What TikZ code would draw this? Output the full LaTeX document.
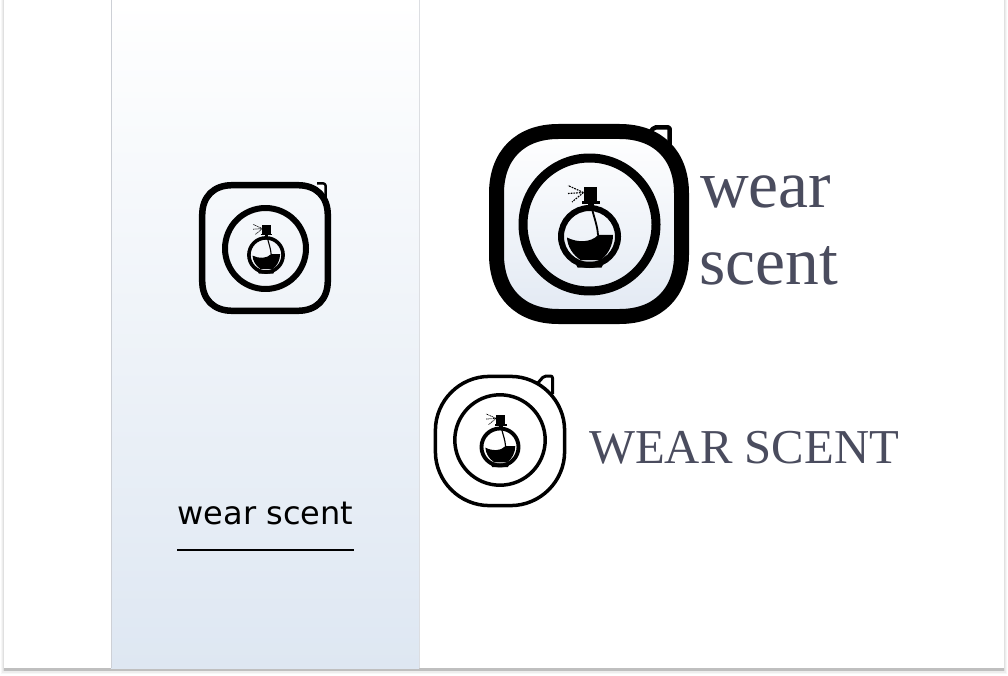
\documentclass[tikz,border=0pt]{standalone}
\usepackage{fontspec}
\setmainfont{Liberation Serif}
\newfontfamily\panelfont{DejaVu Sans}
\definecolor{inkgrey}{HTML}{4A4C5E}
\definecolor{panelblue}{HTML}{DEE7F2}
\definecolor{iconblue}{HTML}{E2E9F3}
\definecolor{edgegrey}{HTML}{CDD0D6}
\tikzset{
  iconring/.style={draw=black, line join=round},
  earline/.style={draw=black, fill=white, rounded corners=2pt, line join=round},
  logotext/.style={inner sep=0pt, anchor=base west, text=inkgrey},
}
% #1 options, #2,#3 centre, #4 half side, #5 corner length, #6 handle
\newcommand{\softsquare}[6]{
  \pgfmathsetmacro\sqa{#4-#5}
  \pgfmathsetmacro\sqb{#4-#5+#5*#6}
  \path[shift={(#2,#3)}, #1] (-\sqa,-#4) -- (\sqa,-#4) .. controls (\sqb,-#4) and (#4,-\sqb) .. (#4,-\sqa)
    -- (#4,\sqa) .. controls (#4,\sqb) and (\sqb,#4) .. (\sqa,#4)
    -- (-\sqa,#4) .. controls (-\sqb,#4) and (-#4,\sqb) .. (-#4,\sqa)
    -- (-#4,-\sqa) .. controls (-#4,-\sqb) and (-\sqb,-#4) .. cycle;
}
% perfume bottle: #1,#2 centre of the body, #3 scale
\newcommand{\perfume}[3]{
  \begin{scope}[shift={(#1,#2)}, x=#3pt, y=-#3pt]
    \draw[line width=#3*6pt] (0,0) circle (28.5);
    \fill (-15,25) -- (15,25) -- (12,31) -- (-12,31) -- cycle;
    \fill (-6,-49.5) rectangle (7.5,-35.5);
    \fill (-8,-35.5) rectangle (10,-32.5);
    \fill (-2,-33) rectangle (4,-28);
    \fill (-22.5,1) .. controls (-12,6.5) and (2,6) .. (8.5,-1.5) -- (23.5,-1.5)
      .. controls (23.5,8) and (19,18) .. (11,23.5) -- (-9,23.5)
      .. controls (-17,18) and (-22,10) .. cycle;
    \draw[line width=#3*1.8pt] (2.5,-27.5) .. controls (5,-18) and (8,-10) .. (8.5,-1.5);
    \draw[line width=#3*1.1pt, dash pattern=on #3*1.8pt off #3*1pt]
      (-6,-44) -- (-21.5,-51) (-6,-44) -- (-21.5,-43) (-6,-44) -- (-17.5,-34.5);
  \end{scope}
}
\begin{document}
\begin{tikzpicture}[x=1pt, y=-1pt]
  \useasboundingbox (0,0) rectangle (1008,676);
  % sheet and its shadow
  \fill[black!3] (1,0) rectangle (1007,674);
  \fill[black!7] (2,0) rectangle (1006,672.5);
  \fill[black!12] (3,0) rectangle (1005,671);
  \fill[black!25] (4,668) rectangle (1004,670.5);
  \fill[white] (4,0) rectangle (1004,668);
  \shade[top color=white, bottom color=panelblue] (111,0) rectangle (419,668);
  \draw[edgegrey, line width=1pt] (111.5,0) -- (111.5,668);
  \draw[edgegrey!70, line width=.7pt] (419.5,0) -- (419.5,668);

  % panel icon
  \path[earline, line width=2.5pt] (317,183.5) -- (325.5,183.5) -- (325.5,197);
  \softsquare{iconring, line width=6.5pt}{265}{248}{62.8}{30}{.62}
  \draw[iconring, line width=6pt] (265.5,248.5) circle (40.5);
  \perfume{266}{255}{.6}
  \node[inner sep=0pt, anchor=base west, text=black] (panel label) at (177.5,524)
    {\panelfont\fontsize{32}{32}\selectfont wear scent};
  \coordinate (rule west) at (177,550);
  \coordinate (rule east) at (354,550);
  \draw[line width=2pt] (rule west) -- (rule east);

  % large icon
  \path[earline, line width=4.5pt] (649,134) -- (654,127.3) -- (669.7,127.3) -- (669.7,152);
  \softsquare{shade, top color=white, bottom color=iconblue}{589}{224}{92.5}{62}{.62}
  \softsquare{iconring, line width=15pt}{589}{224}{92.5}{62}{.62}
  \draw[iconring, line width=9pt] (589.5,224.5) circle (66.5);
  \perfume{589.5}{236.5}{1}
  \node[logotext] (wear word) at (700,208) {\fontsize{67.5}{67.5}\selectfont wear};
  \node[logotext] (scent word) at (699,284) {\fontsize{67.5}{67.5}\selectfont scent};

  % outline icon
  \path[earline, line width=3pt] (537,384) -- (544,376) -- (552.5,376) -- (552.5,394);
  \softsquare{iconring, fill=white, line width=3.5pt}{500}{441}{64.6}{54}{.55}
  \draw[iconring, line width=3.5pt] (500,440) circle (45.2);
  \perfume{500}{447}{.65}
  \node[logotext] (wordmark) at (589,463) {\fontsize{48.7}{48.7}\selectfont WEAR SCENT};
\end{tikzpicture}
\end{document}
